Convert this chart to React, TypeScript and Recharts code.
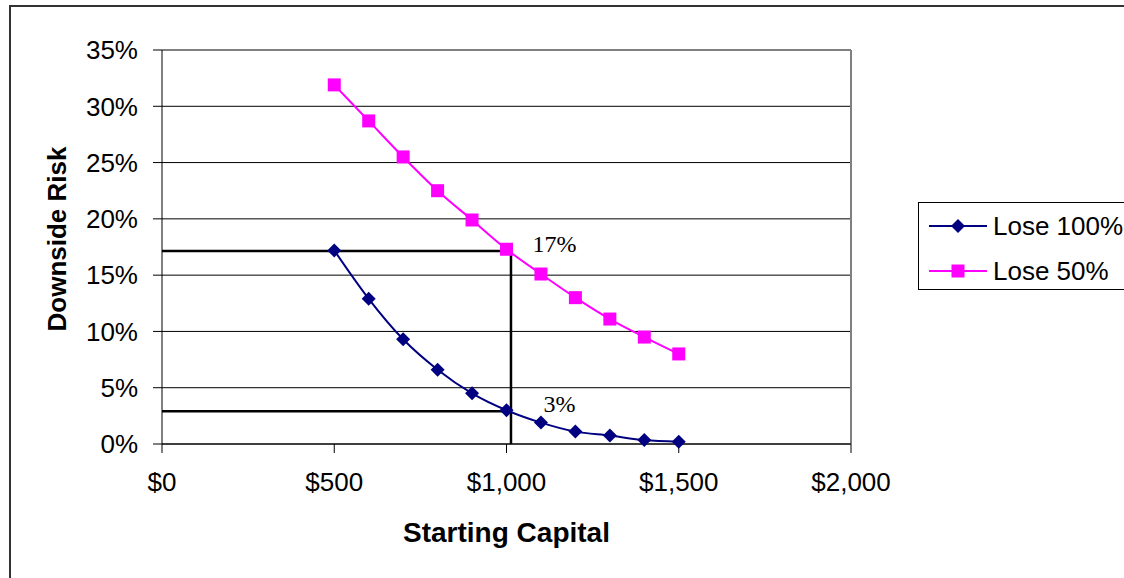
import React from "react";
import { LineChart, Line, XAxis, YAxis, CartesianGrid, ReferenceLine, ReferenceDot, Label } from "recharts";

const CAPITAL = [500, 600, 700, 800, 900, 1000, 1100, 1200, 1300, 1400, 1500];
const LOSE_100 = [17.2, 12.9, 9.3, 6.6, 4.5, 3.0, 1.9, 1.1, 0.75, 0.35, 0.2];
const LOSE_50 = [31.9, 28.7, 25.5, 22.5, 19.9, 17.3, 15.1, 13.0, 11.1, 9.5, 8.0];
const X_TICKS = [0, 500, 1000, 1500, 2000];
const Y_TICKS = [0, 5, 10, 15, 20, 25, 30, 35];
const SERIES = [
  { key: "lose100", name: "Lose 100%", color: "#000080", shape: "diamond" },
  { key: "lose50", name: "Lose 50%", color: "#FF00FF", shape: "square" },
];
// guide lines drawn on the chart
const GUIDE_X = 1013;
const GUIDE_HIGH = 17.15;
const GUIDE_LOW = 2.9;
const NOTES = [
  { x: 1000, y: 17.2, text: "17%", dx: 26 },
  { x: 1000, y: 3.0, text: "3%", dx: 37 },
];

const data = CAPITAL.map((c, i) => ({ capital: c, lose100: LOSE_100[i], lose50: LOSE_50[i] }));

const FONT = "'Liberation Sans', Arial, sans-serif";

const Diamond = (props: any) => {
  const { cx, cy, fill } = props;
  if (cx == null || cy == null) return null;
  const r = 7;
  return <polygon points={`${cx},${cy - r} ${cx + r},${cy} ${cx},${cy + r} ${cx - r},${cy}`} fill={fill} />;
};

const Square = (props: any) => {
  const { cx, cy, fill } = props;
  if (cx == null || cy == null) return null;
  const s = 13;
  return <rect x={cx - s / 2} y={cy - s / 2} width={s} height={s} fill={fill} />;
};

const money = (v: number) => "$" + v.toLocaleString("en-US");

export default function App() {
  return (
    <div style={{ position: "fixed", left: 0, top: 0, width: 1124, height: 578, overflow: "hidden", background: "#fff", fontFamily: FONT }}>
      <div style={{ position: "absolute", left: 0, top: 0 }}>
        <LineChart width={1124} height={578} data={data} margin={{ top: 50, right: 273, bottom: 0, left: 0 }}>
          <CartesianGrid horizontal vertical={false} stroke="#000" strokeWidth={1} />
          <XAxis
            dataKey="capital"
            type="number"
            domain={[0, 2000]}
            ticks={X_TICKS}
            tickFormatter={money}
            height={134}
            stroke="#000"
            tickSize={9}
            tickMargin={20}
            tick={{ fill: "#000", fontSize: 26, fontFamily: FONT }}
          >
            <Label value="Starting Capital" position="insideBottom" offset={36} style={{ fontSize: 28, fontWeight: "bold", fill: "#000", fontFamily: FONT }} />
          </XAxis>
          <YAxis
            type="number"
            domain={[0, 35]}
            ticks={Y_TICKS}
            tickFormatter={(v: number) => `${v}%`}
            width={162}
            stroke="#000"
            tickSize={9}
            tickMargin={15}
            interval={0}
            tick={{ fill: "#000", fontSize: 26, fontFamily: FONT }}
          >
            <Label
              content={() => (
                <text x={0} y={0} transform="translate(66,239) rotate(-90)" textAnchor="middle" style={{ fontSize: 26, fontWeight: "bold", fill: "#000", fontFamily: FONT }}>
                  Downside Risk
                </text>
              )}
            />
          </YAxis>
          <ReferenceLine y={35} stroke="#808080" strokeWidth={2} />
          <ReferenceLine x={2000} stroke="#808080" strokeWidth={2} />
          <ReferenceLine segment={[{ x: 0, y: GUIDE_HIGH }, { x: GUIDE_X, y: GUIDE_HIGH }]} stroke="#000" strokeWidth={2.5} />
          <ReferenceLine segment={[{ x: 0, y: GUIDE_LOW }, { x: GUIDE_X, y: GUIDE_LOW }]} stroke="#000" strokeWidth={2.5} />
          <ReferenceLine segment={[{ x: GUIDE_X, y: 0 }, { x: GUIDE_X, y: GUIDE_HIGH }]} stroke="#000" strokeWidth={2.5} />
          {NOTES.map((n) => (
            <ReferenceDot
              key={n.text}
              x={n.x}
              y={n.y}
              r={0}
              fill="none"
              stroke="none"
              label={(p: any) => {
                const vb = p.viewBox || {};
                return (
                  <text x={vb.x + n.dx} y={vb.y + 2} style={{ fontSize: 24, fill: "#000", fontFamily: "'Liberation Serif', 'Times New Roman', serif" }}>
                    {n.text}
                  </text>
                );
              }}
            />
          ))}
          <Line
            dataKey="lose100"
            name="Lose 100%"
            type="monotone"
            stroke="#000080"
            strokeWidth={2}
            dot={<Diamond fill="#000080" />}
            activeDot={false}
            isAnimationActive={false}
          />
          <Line
            dataKey="lose50"
            name="Lose 50%"
            type="monotone"
            stroke="#FF00FF"
            strokeWidth={2}
            dot={<Square fill="#FF00FF" />}
            activeDot={false}
            isAnimationActive={false}
          />
        </LineChart>
      </div>
      <div style={{ position: "absolute", left: 9, top: 5, width: 1200, height: 2, background: "#333", zIndex: 5 }} />
      <div style={{ position: "absolute", left: 9, top: 5, width: 2, height: 700, background: "#333", zIndex: 5 }} />
      <div style={{ position: "absolute", left: 918, top: 202, width: 300, height: 86, border: "1.5px solid #000", background: "#fff" }}>
        {SERIES.map((s, i) => (
          <div key={s.key} style={{ position: "absolute", left: 0, top: i === 0 ? 6 : 51, height: 34, display: "flex", alignItems: "center" }}>
            <svg width={72} height={34} style={{ display: "block" }}>
              <line x1={10} y1={17} x2={68} y2={17} stroke={s.color} strokeWidth={2} />
              {s.shape === "diamond" ? (
                <polygon points="39,10 46,17 39,24 32,17" fill={s.color} />
              ) : (
                <rect x={32.5} y={10.5} width={13} height={13} fill={s.color} />
              )}
            </svg>
            <span style={{ fontSize: 26, color: "#000", marginLeft: 2, whiteSpace: "nowrap" }}>{s.name}</span>
          </div>
        ))}
      </div>
    </div>
  );
}
